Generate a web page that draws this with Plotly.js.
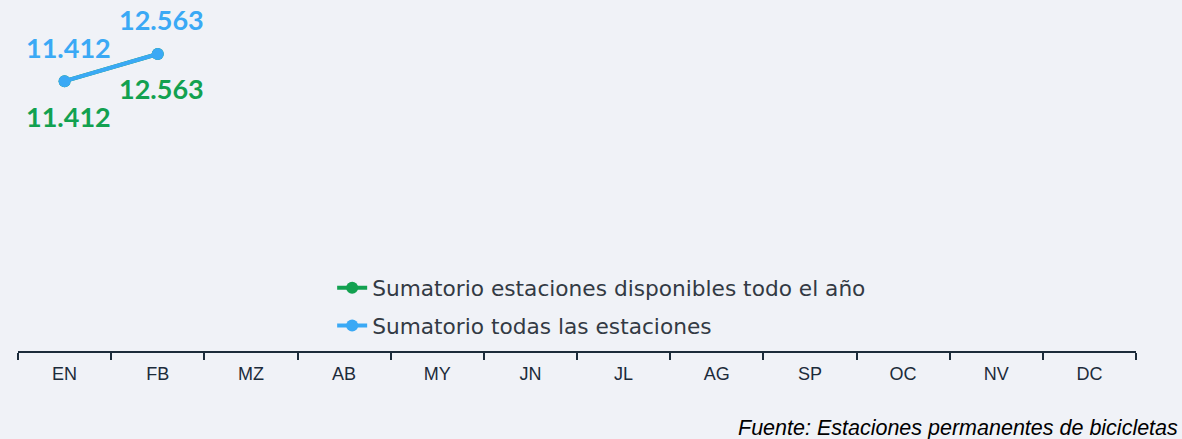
<!DOCTYPE html>
<html>
<head>
<meta charset="utf-8">
<script src="https://cdn.plot.ly/plotly-3.0.1.min.js"></script>
<style>html,body{margin:0;padding:0;background:#f0f2f7;}#chart{width:1182px;height:439px;}</style>
</head>
<body>
<div id="chart"></div>
<script>
const months = ["EN","FB","MZ","AB","MY","JN","JL","AG","SP","OC","NV","DC"];
const dataMonths = ["EN","FB"];
const estacionesDisponibles = [11412, 12563];
const todasEstaciones = [11412, 12563];
const seriesNames = ["Sumatorio estaciones disponibles todo el año", "Sumatorio todas las estaciones"];
const sourceText = "Fuente: Estaciones permanentes de bicicletas";

const GREEN = "#12a150";
const BLUE = "#3aa9f5";

function fmt(v){ return String(v).replace(/\B(?=(\d{3})+(?!\d))/g, "."); }

const traces = [
  {x: dataMonths, y: estacionesDisponibles, name: seriesNames[0], type: "scatter", mode: "lines+markers",
   line: {color: GREEN, width: 4}, marker: {color: GREEN, size: 12}, hoverinfo: "skip", legend: "legend"},
  {x: dataMonths, y: todasEstaciones, name: seriesNames[1], type: "scatter", mode: "lines+markers",
   line: {color: BLUE, width: 4}, marker: {color: BLUE, size: 12}, hoverinfo: "skip", legend: "legend2"}
];

const annotations = [];
dataMonths.forEach((m, i) => {
  annotations.push({x: m, y: estacionesDisponibles[i], text: fmt(estacionesDisponibles[i]), showarrow: false,
    yshift: -35, xshift: 4, font: {family: "Lato, 'Open Sans', sans-serif", size: 27, color: GREEN, weight: "bold"}});
  annotations.push({x: m, y: todasEstaciones[i], text: fmt(todasEstaciones[i]), showarrow: false,
    yshift: 34, xshift: 4, font: {family: "Lato, 'Open Sans', sans-serif", size: 27, color: BLUE, weight: "bold"}});
});
annotations.push({xref: "paper", yref: "paper", x: 1.0395, y: -0.232, xanchor: "right", yanchor: "middle",
  text: "<i>" + sourceText + "</i>", showarrow: false,
  font: {family: "'Liberation Sans', Arial, sans-serif", size: 21.5, color: "#000000"}});

const legendFont = {family: "'DejaVu Sans', 'Open Sans', sans-serif", size: 21.7, color: "#333a44"};
const layout = {
  width: 1182, height: 439,
  paper_bgcolor: "#f0f2f7", plot_bgcolor: "#f0f2f7",
  margin: {l: 18, r: 46, t: 20, b: 88},
  showlegend: true,
  legend: {x: 0.281, y: 0.19, xanchor: "left", yanchor: "middle", bgcolor: "rgba(0,0,0,0)", font: legendFont},
  legend2: {x: 0.281, y: 0.0755, xanchor: "left", yanchor: "middle", bgcolor: "rgba(0,0,0,0)", font: legendFont},
  xaxis: {type: "category", categoryorder: "array", categoryarray: months, tickvals: months, range: [-0.5, 11.5],
    showline: true, linecolor: "#1c2b3a", linewidth: 2, ticks: "outside", tickson: "boundaries",
    ticklen: 7, tickwidth: 2, tickcolor: "#1c2b3a", showgrid: false, zeroline: false, ticklabelstandoff: 5,
    tickfont: {family: "'Liberation Sans', Arial, sans-serif", size: 18, color: "#1c2b3a"}},
  yaxis: {range: [0, 14000], visible: false, showgrid: false, zeroline: false},
  annotations: annotations
};

Plotly.newPlot("chart", traces, layout, {displayModeBar: false, staticPlot: true});
</script>
</body>
</html>
